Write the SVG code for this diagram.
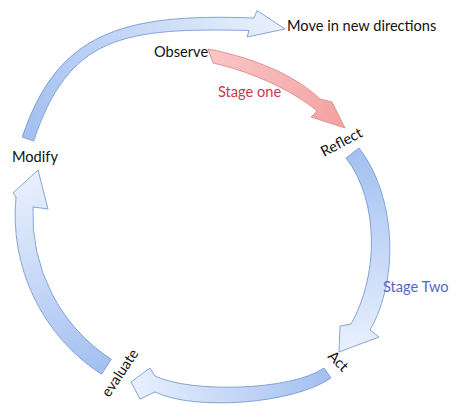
<svg xmlns="http://www.w3.org/2000/svg" width="463" height="406" viewBox="0 0 463 406">
<defs>
<style>
.arr{stroke:#7b9bd2;stroke-width:0.9;stroke-linejoin:round}
.red{stroke:#de8c8c;stroke-width:0.9;stroke-linejoin:round}
.t{font-family:Lato,"Liberation Sans",sans-serif;font-size:14.6px;fill:#111}
</style>
<linearGradient id="gTop" gradientUnits="userSpaceOnUse" x1="28" y1="139" x2="280" y2="24"><stop offset="0" stop-color="#a3c0f1"/><stop offset="1" stop-color="#e9f0fc"/></linearGradient>
<linearGradient id="gRight" gradientUnits="userSpaceOnUse" x1="352" y1="150" x2="345" y2="350"><stop offset="0" stop-color="#a3c0f1"/><stop offset="1" stop-color="#e9f0fc"/></linearGradient>
<linearGradient id="gBot" gradientUnits="userSpaceOnUse" x1="328" y1="373" x2="131" y2="385"><stop offset="0" stop-color="#a3c0f1"/><stop offset="1" stop-color="#e9f0fc"/></linearGradient>
<linearGradient id="gLeft" gradientUnits="userSpaceOnUse" x1="106" y1="368" x2="38" y2="172"><stop offset="0" stop-color="#a3c0f1"/><stop offset="1" stop-color="#e9f0fc"/></linearGradient>
<linearGradient id="gRed" gradientUnits="userSpaceOnUse" x1="210" y1="56" x2="340" y2="125"><stop offset="0" stop-color="#f9c6c6"/><stop offset="1" stop-color="#f4a2a2"/></linearGradient>
</defs>
<rect width="463" height="406" fill="#fff"/>
<g id="connectors">
<path id="arrow-top" class="arr" fill="url(#gTop)" d="M22.3,137.1 C57.3,32.6 122,13 254,18 L257,10.5 L285,29 L247,37 L249,30.5 C121.9,27.4 68.7,36.4 33.7,140.9 Z"/>
<path id="arrow-stage-one" class="red" fill="url(#gRed)" d="M208,49 C240,55 290,70 320,99 L332,102 L345,128 L311,117 L317,111 C290,88 245,70 213,63 Z"/>
<path id="arrow-right" class="arr" fill="url(#gRight)" d="M359,148 C395.6,195.4 400,277.8 370,330 L379,337 L339,352 L340,326 L351,324 C378.5,276.2 379.6,201.5 346,158 Z"/>
<path id="arrow-bottom" class="arr" fill="url(#gBot)" d="M324,368 C291.2,390.8 191,393.2 155,376 L150,368 L131,382 L140,399 L155,392 C195.5,411.4 294,403.7 331,378 Z"/>
<path id="arrow-left" class="arr" fill="url(#gLeft)" d="M16,197 A190,190 0 0 0 101.5,374.3 L111.3,359.3 A172,172 0 0 1 33,207 L48,209 L38,170 L13,193 Z"/>
</g>
<g id="node-move"><text class="t" x="287" y="31">Move in new directions</text></g>
<g id="node-observe"><text class="t" x="154" y="57">Observe</text></g>
<g id="label-stage-one"><text class="t" x="218" y="97" style="fill:#cc3a45">Stage one</text></g>
<g id="node-reflect"><text class="t" x="324" y="157" transform="rotate(-28 324 157)">Reflect</text></g>
<g id="label-stage-two"><text class="t" x="383" y="292" style="fill:#4f68cc">Stage Two</text></g>
<g id="node-act"><text class="t" x="327" y="357" transform="rotate(45 327 357)">Act</text></g>
<g id="node-evaluate"><text class="t" x="109" y="398" transform="rotate(-56 109 398)">evaluate</text></g>
<g id="node-modify"><text class="t" x="12" y="162">Modify</text></g>
</svg>
